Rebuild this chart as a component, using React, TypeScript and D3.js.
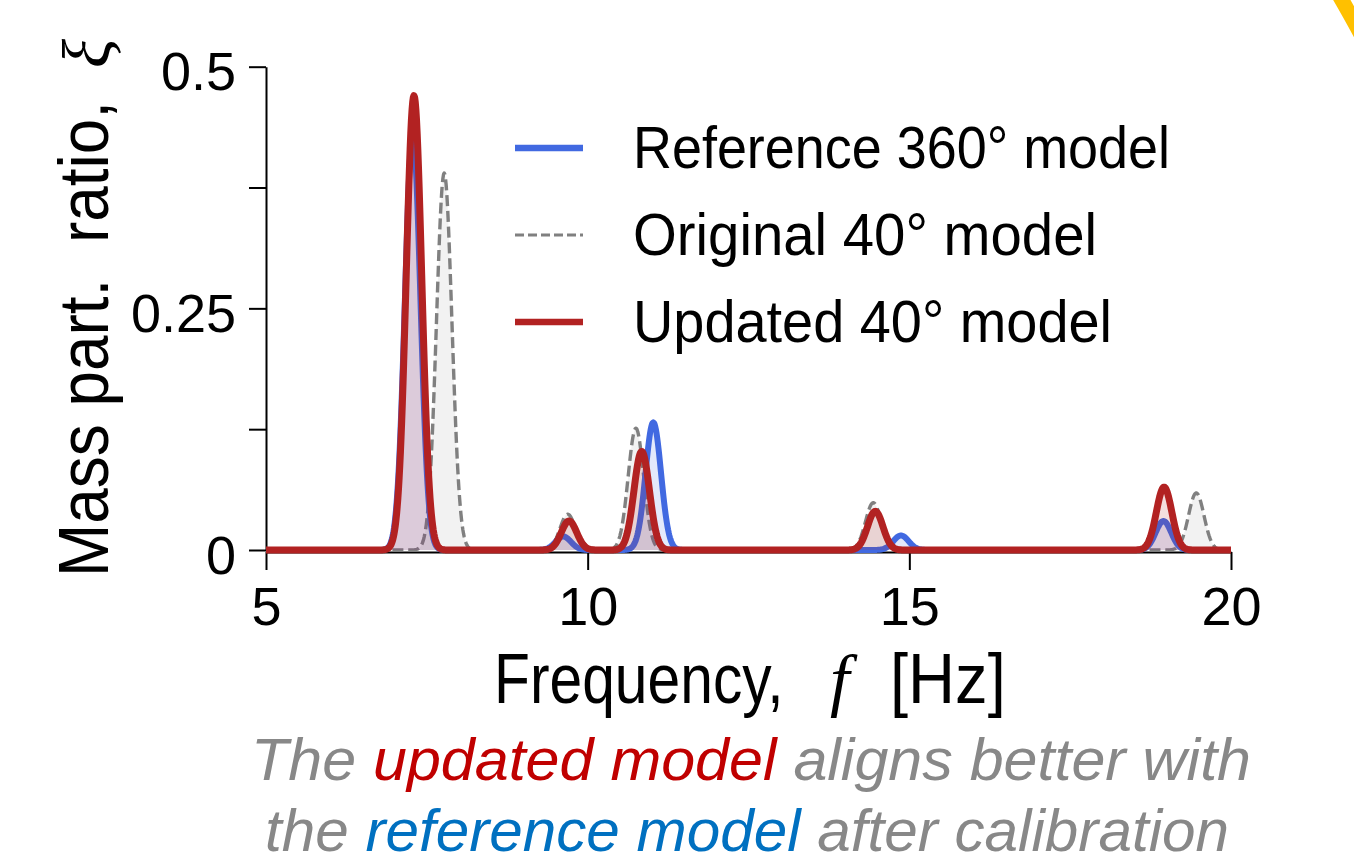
import React, { useEffect, useRef } from "react";
import * as d3 from "d3";

// ---- data ----
// modal frequency [Hz] and mass participation ratio of each mode, per model
const referenceFreqs = [7.28, 9.62, 11.02, 14.87, 18.95];
const referenceRatios = [0.43, 0.014, 0.132, 0.015, 0.03];
const originalFreqs = [7.77, 9.69, 10.75, 14.44, 19.46];
const originalRatios = [0.39, 0.037, 0.126, 0.049, 0.059];
const updatedFreqs = [7.3, 9.71, 10.84, 14.47, 18.96];
const updatedRatios = [0.47, 0.03, 0.102, 0.04, 0.065];

const xTicks = [5, 10, 15, 20];
const yTicks = [0, 0.125, 0.25, 0.375, 0.5];
const yTickLabels = ["0", "", "0.25", "", "0.5"];
const legendLabels = ["Reference 360° model", "Original 40° model", "Updated 40° model"];

// width (std, Hz) of the bell drawn around each mode
const PEAK_WIDTH = 0.12;

const SANS = "'Liberation Sans', Arial, sans-serif";
const SERIF = "'Liberation Serif', 'Times New Roman', serif";

export default function App() {
  const ref = useRef<SVGSVGElement | null>(null);

  useEffect(() => {
    const svg = d3.select(ref.current);
    svg.selectAll("*").remove();

    // ---- scales ----
    const x = d3.scaleLinear().domain([5, 20]).range([266, 1231]);
    const y = d3.scaleLinear().domain([0, 0.5]).range([550, 66.7]);

    const grid = d3.range(5, 20.0001, 0.01);
    const spectrum = (freqs: number[], ratios: number[]) =>
      grid.map((f) => ({
        f,
        v: d3.sum(freqs, (fi, i) => ratios[i] * Math.exp(-((f - fi) ** 2) / (2 * PEAK_WIDTH ** 2))),
      }));

    const series = [
      { freqs: originalFreqs, ratios: originalRatios, color: "#808080", width: 3.4, dash: "11,4.8", fillOpacity: 0.1 },
      { freqs: referenceFreqs, ratios: referenceRatios, color: "#4169e1", width: 6, dash: null, fillOpacity: 0.15 },
      { freqs: updatedFreqs, ratios: updatedRatios, color: "#b22222", width: 7, dash: null, fillOpacity: 0.15 },
    ];

    // ---- axes ----
    const yAxis = d3
      .axisLeft(y)
      .tickValues(yTicks)
      .tickFormat((d, i) => yTickLabels[i])
      .tickSize(17)
      .tickPadding(13)
      .tickSizeOuter(0);
    const xAxis = d3
      .axisBottom(x)
      .tickValues(xTicks)
      .tickFormat(d3.format("d"))
      .tickSize(18)
      .tickPadding(17)
      .tickSizeOuter(0);

    const gx = svg.append("g").attr("transform", `translate(0,${y(0) + 2})`).call(xAxis);
    const gy = svg.append("g").attr("transform", `translate(${x(5)},0)`).call(yAxis);
    [gx, gy].forEach((g) => {
      g.attr("font-family", SANS).attr("font-size", 54);
      g.select(".domain").attr("stroke", "#000").attr("stroke-width", 2);
      g.selectAll(".tick line").attr("stroke", "#000").attr("stroke-width", 2);
      g.selectAll(".tick text").attr("fill", "#000");
    });
    gy.selectAll(".tick text").attr("dy", "0.43em");

    // ---- curves ----
    const area = d3
      .area<{ f: number; v: number }>()
      .x((d) => x(d.f))
      .y0(y(0))
      .y1((d) => y(d.v));
    const line = d3
      .line<{ f: number; v: number }>()
      .x((d) => x(d.f))
      .y((d) => y(d.v));

    const curves = svg.append("g");
    series.forEach((s) => {
      const data = spectrum(s.freqs, s.ratios);
      curves.append("path").attr("d", area(data)).attr("fill", s.color).attr("fill-opacity", s.fillOpacity);
      curves
        .append("path")
        .attr("d", line(data))
        .attr("fill", "none")
        .attr("stroke", s.color)
        .attr("stroke-width", s.width)
        .attr("stroke-dasharray", s.dash)
        .attr("stroke-linejoin", "round");
    });

    // ---- legend ----
    const legendOrder = [series[1], series[0], series[2]];
    const legendWidths = [537, 464, 479];
    const legend = svg.append("g");
    legendLabels.forEach((label, i) => {
      const s = legendOrder[i];
      const ly = 148 + i * 87;
      legend
        .append("line")
        .attr("x1", 515)
        .attr("x2", 583)
        .attr("y1", ly)
        .attr("y2", ly)
        .attr("stroke", s.color)
        .attr("stroke-width", s.dash ? 3.2 : 6.5)
        .attr("stroke-dasharray", s.dash ? "9,4" : null);
      legend
        .append("text")
        .attr("x", 633)
        .attr("y", ly + 20)
        .attr("font-family", SANS)
        .attr("font-size", 60)
        .attr("textLength", legendWidths[i])
        .attr("lengthAdjust", "spacingAndGlyphs")
        .text(label);
    });

    // ---- axis labels ----
    // squeezed horizontally to the narrow proportions of the original sans face
    const xl = svg.append("g").attr("font-size", 70);
    xl.append("text")
      .attr("transform", "translate(494,703) scale(0.84,1)")
      .attr("font-family", SANS)
      .text("Frequency,");
    xl.append("text")
      .attr("x", 830)
      .attr("y", 703)
      .attr("font-family", SERIF)
      .attr("font-style", "italic")
      .attr("font-size", 70)
      .text("f");
    xl.append("text")
      .attr("transform", "translate(890,703) scale(0.93,1)")
      .attr("font-family", SANS)
      .text("[Hz]");

    svg
      .append("text")
      .attr("transform", "translate(108,577) rotate(-90)")
      .attr("font-family", SANS)
      .attr("font-size", 70)
      .attr("textLength", 476)
      .attr("lengthAdjust", "spacingAndGlyphs")
      .style("white-space", "pre")
      .text("Mass part.  ratio,");
    svg
      .append("text")
      .attr("transform", "translate(110,68) rotate(-90)")
      .attr("font-family", SERIF)
      .attr("font-style", "italic")
      .attr("font-size", 68)
      .text("ξ");

    // ---- caption ----
    const captionLines = [
      { x: 251, y: 780, len: 1000, parts: [["The ", "#888888"], ["updated model", "#c00000"], [" aligns better with", "#888888"]] },
      { x: 265, y: 851, len: 964, parts: [["the ", "#888888"], ["reference model", "#0070c0"], [" after calibration", "#888888"]] },
    ];
    captionLines.forEach((c) => {
      const t = svg
        .append("text")
        .attr("x", c.x)
        .attr("y", c.y)
        .attr("font-family", SANS)
        .attr("font-style", "italic")
        .attr("font-size", 60)
        .attr("textLength", c.len)
        .attr("lengthAdjust", "spacingAndGlyphs")
        .style("white-space", "pre");
      c.parts.forEach(([txt, col]) => t.append("tspan").attr("fill", col).text(txt));
    });

    // slide decoration, top right corner
    svg
      .append("path")
      .attr("d", "M1336,-10 Q1349,12 1364,40")
      .attr("fill", "none")
      .attr("stroke", "#ffc000")
      .attr("stroke-width", 15);
  }, []);

  return (
    <svg
      ref={ref}
      width={1354}
      height={865}
      style={{ position: "absolute", left: 0, top: 0, background: "#fff" }}
    />
  );
}
